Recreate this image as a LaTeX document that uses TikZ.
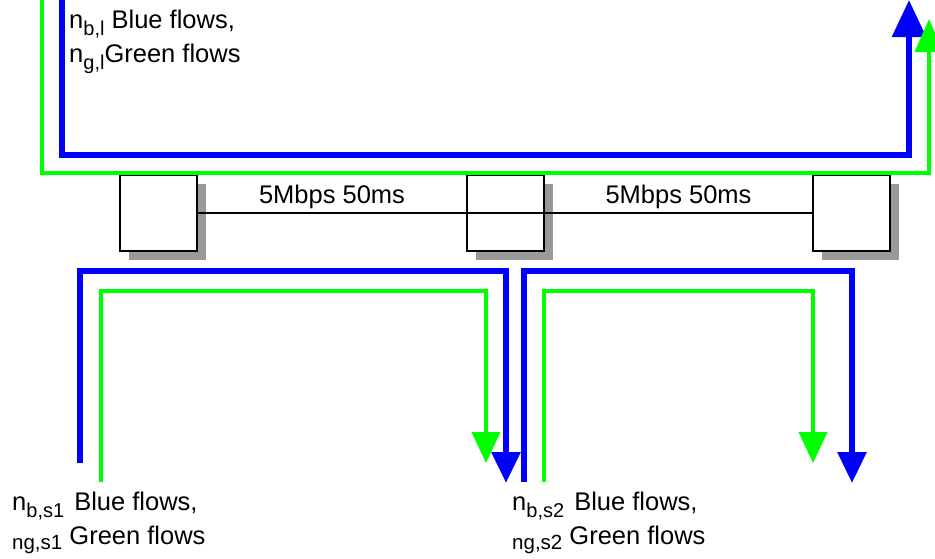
\documentclass[tikz,border=0pt]{standalone}
\usepackage{fontspec}
\setmainfont{Liberation Sans}
\usetikzlibrary{arrows.meta,calc,shadows}
\newcommand\lowsub[1]{\raisebox{-7pt}{\fontsize{20}{20}\selectfont #1}}
\newcommand\lowsmall[1]{\raisebox{-5pt}{\fontsize{20.5}{20}\selectfont #1}}
\newcommand\twoline[2]{\vtop{\baselineskip=34.5pt\hbox{#1}\hbox{#2}}}
\definecolor{flowblue}{RGB}{0,0,255}
\definecolor{flowgreen}{RGB}{0,255,0}
\definecolor{shadowgray}{RGB}{153,153,153}
\begin{document}
\begin{tikzpicture}[x=1pt,y=-1pt,
  bluef/.style={draw=flowblue,line width=6pt},
  greenf/.style={draw=flowgreen,line width=4pt},
  router/.style={draw,line width=2pt,fill=white,minimum width=77pt,minimum height=76pt,
    inner sep=0pt,outer sep=0pt,
    drop shadow={shadow xshift=9pt,shadow yshift=-9pt,fill=shadowgray,opacity=1}},
  lbl/.style={font=\fontsize{25.5}{30}\selectfont,inner sep=0pt,anchor=base west},
  linklbl/.style={font=\fontsize{25.5}{30}\selectfont,inner sep=0pt,anchor=base},
  bigtip/.style={-{Triangle[width=33pt,length=37pt]}},
  midtip/.style={-{Triangle[width=28pt,length=33pt]}},
  smalltip/.style={-{Triangle[width=28pt,length=31pt]}}
]
\useasboundingbox (0,0) rectangle (935,558);

% top blue flow
\coordinate (tb0) at (62,-5);
\coordinate (tb1) at (62,155);
\coordinate (tb2) at (909,155);
\coordinate (tb3) at (909,0);
\draw[bluef,bigtip] (tb0) -- (tb1) -- (tb2) -- (tb3);

% routers
\node[router] (r1) at (158.5,213) {};
\node[router] (r2) at (505.5,213) {};
\node[router] (r3) at (851.5,213) {};
\draw[line width=2pt] (r1) -- (r3);
\node[linklbl] (l12) at ($(r1.east)!0.5!(r2.west)+(0,-10)$) {5Mbps 50ms};
\node[linklbl] (l23) at ($(r2.east)!0.5!(r3.west)+(0,-10)$) {5Mbps 50ms};

% top green flow
\coordinate (tg0) at (42,-5);
\coordinate (tg1) at (42,173);
\coordinate (tg2) at (929,173);
\coordinate (tg3) at (929,19);
\draw[greenf,midtip] (tg0) -- (tg1) -- (tg2) -- (tg3);

% left lower flows
\coordinate (lb0) at (80,463);
\coordinate (lb1) at (80,271);
\coordinate (lb2) at (506,271);
\coordinate (lb3) at (506,483);
\draw[bluef,smalltip] (lb0) -- (lb1) -- (lb2) -- (lb3);
\coordinate (lg0) at (101,482);
\coordinate (lg1) at (101,291);
\coordinate (lg2) at (486,291);
\coordinate (lg3) at (486,463);
\draw[greenf,smalltip] (lg0) -- (lg1) -- (lg2) -- (lg3);

% right lower flows
\coordinate (rb0) at (524,482);
\coordinate (rb1) at (524,271);
\coordinate (rb2) at (852,271);
\coordinate (rb3) at (852,483);
\draw[bluef,smalltip] (rb0) -- (rb1) -- (rb2) -- (rb3);
\coordinate (rg0) at (544,482);
\coordinate (rg1) at (544,291);
\coordinate (rg2) at (813,291);
\coordinate (rg3) at (813,463);
\draw[greenf,smalltip] (rg0) -- (rg1) -- (rg2) -- (rg3);

% labels
\node[lbl] (toplbl) at (69,28) {\twoline{n\lowsub{b,l} Blue flows,}{n\lowsub{g,l}Green flows}};
\node[lbl] (s1lbl) at (12,510) {\twoline{n\lowsub{b,s1}\hspace{3pt} Blue flows,}{\lowsmall{ng,s1} Green flows}};
\node[lbl] (s2lbl) at (512,510) {\twoline{n\lowsub{b,s2}\hspace{3pt} Blue flows,}{\lowsmall{ng,s2} Green flows}};
\end{tikzpicture}
\end{document}
